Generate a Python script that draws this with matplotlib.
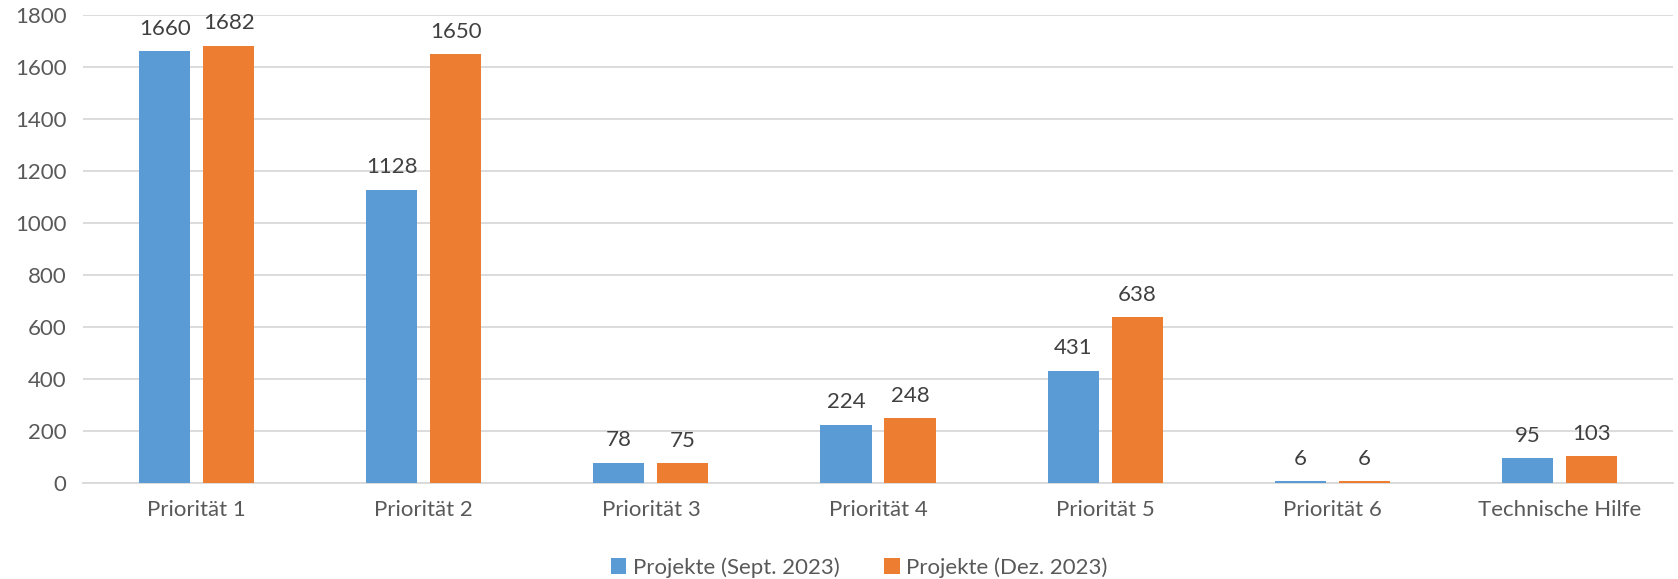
import matplotlib.pyplot as plt
import numpy as np

categories = ['Priorität 1', 'Priorität 2', 'Priorität 3', 'Priorität 4',
              'Priorität 5', 'Priorität 6', 'Technische Hilfe']
sept = [1660, 1128, 78, 224, 431, 6, 95]
dez = [1682, 1650, 75, 248, 638, 6, 103]
labels = ['Projekte (Sept. 2023)', 'Projekte (Dez. 2023)']

plt.rcParams['font.family'] = ['Lato', 'DejaVu Sans']

fig = plt.figure(figsize=(16.78, 5.79), dpi=100)
ax = fig.add_axes([0.0495, 0.166, 0.9475, 0.808])

x = np.arange(len(categories))
w = 0.225
off = 0.141
b1 = ax.bar(x - off, sept, w, color='#5B9BD5', label=labels[0], zorder=3)
b2 = ax.bar(x + off, dez, w, color='#ED7D31', label=labels[1], zorder=3)

for bars in (b1, b2):
    for rect in bars:
        h = rect.get_height()
        ax.annotate(str(int(h)), (rect.get_x() + rect.get_width() / 2, h),
                    xytext=(0, 9), textcoords='offset points',
                    ha='center', va='bottom', fontsize=16, color='#404040')

ax.set_xlim(-0.5, len(categories) - 0.5)
ax.set_ylim(0, 1800)
ax.set_yticks(range(0, 1801, 200))
ax.set_xticks(x)
ax.set_xticklabels(categories)
ax.tick_params(axis='both', length=0, labelsize=16, colors='#595959')
ax.tick_params(axis='x', pad=12)
ax.tick_params(axis='y', pad=12)
ax.grid(axis='y', color='#D9D9D9', linewidth=1.3, zorder=0)
for s in ['top', 'right', 'left']:
    ax.spines[s].set_visible(False)
ax.spines['bottom'].set_color('#D9D9D9')
ax.spines['bottom'].set_linewidth(1.3)

fig.legend(loc='lower center', bbox_to_anchor=(0.512, -0.032), ncol=2, frameon=False,
           fontsize=16, handlelength=0.7, handleheight=0.7, handletextpad=0.3,
           columnspacing=2.0, labelcolor='#595959')

fig.savefig('out.png')
